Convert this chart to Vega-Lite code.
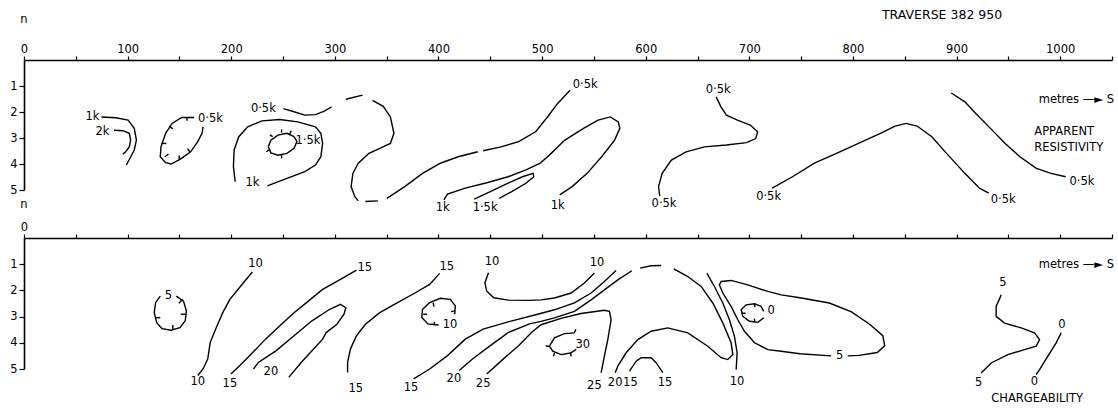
{
"$schema":"https://vega.github.io/schema/vega-lite/v6.json",
"background":"white",
"padding":{"left":9,"top":9,"right":0,"bottom":0},
"spacing":48,
"bounds":"flush",
"config":{
 "view":{"stroke":null},
 "font":"DejaVu Sans",
 "axis":{"domainColor":"black","tickColor":"black","labelColor":"black","labelFont":"DejaVu Sans","labelFontSize":11.5,"grid":false,"title":null,"domainWidth":1.6,"tickWidth":1.2,"labelFlush":false,"labelOverlap":false}
},
"datasets":{
"r":[
{"g":"a","x":74.7,"n":2.19},{"g":"a","x":88.5,"n":2.22},{"g":"a","x":100.5,"n":2.31},{"g":"a","x":106.4,"n":2.63},{"g":"a","x":108.5,"n":3.08},{"g":"a","x":106.4,"n":3.46},{"g":"a","x":102.3,"n":3.78},{"g":"a","x":98.8,"n":4.04},
{"g":"b","x":86.8,"n":2.70},{"g":"b","x":95.4,"n":2.72},{"g":"b","x":101.6,"n":2.82},{"g":"b","x":102.9,"n":3.08},{"g":"b","x":101.6,"n":3.34},{"g":"b","x":98.1,"n":3.53},{"g":"b","x":95.4,"n":3.62},
{"g":"c","x":164.2,"n":2.21},{"g":"c","x":152.2,"n":2.21},{"g":"c","x":142.9,"n":2.44},{"g":"c","x":136.7,"n":2.82},{"g":"c","x":132.2,"n":3.34},{"g":"c","x":131.5,"n":3.72},{"g":"c","x":136.7,"n":3.95},{"g":"c","x":141.9,"n":4.00},{"g":"c","x":150.5,"n":3.82},{"g":"c","x":160.8,"n":3.53},{"g":"c","x":167.7,"n":3.14},{"g":"c","x":171.8,"n":2.82},{"g":"c","x":172.8,"n":2.57},
{"g":"d","x":250.3,"n":1.87},{"g":"d","x":260.6,"n":1.99},{"g":"d","x":271.0,"n":2.12},{"g":"d","x":281.3,"n":2.10},{"g":"d","x":289.9,"n":1.97},{"g":"d","x":296.8,"n":1.80},
{"g":"e","x":310.6,"n":1.51},{"g":"e","x":326.7,"n":1.35},
{"g":"f","x":336.4,"n":1.55},{"g":"f","x":346.7,"n":1.78},{"g":"f","x":353.6,"n":2.19},{"g":"f","x":357.0,"n":2.82},{"g":"f","x":353.6,"n":3.21},{"g":"f","x":343.3,"n":3.40},{"g":"f","x":332.9,"n":3.59},{"g":"f","x":322.6,"n":3.97},{"g":"f","x":317.4,"n":4.36},{"g":"f","x":315.7,"n":4.87},{"g":"f","x":319.2,"n":5.25},{"g":"f","x":322.6,"n":5.42},
{"g":"g","x":329.5,"n":5.44},{"g":"g","x":341.5,"n":5.42},
{"g":"h","x":350.2,"n":5.32},{"g":"h","x":367.4,"n":4.87},{"g":"h","x":384.6,"n":4.36},{"g":"h","x":401.8,"n":3.97},{"g":"h","x":419.0,"n":3.72},{"g":"h","x":437.9,"n":3.53},
{"g":"i","x":443.1,"n":3.49},{"g":"i","x":460.3,"n":3.34},{"g":"i","x":477.5,"n":3.14},{"g":"i","x":494,"n":2.75},{"g":"i","x":505,"n":2.2},{"g":"i","x":515,"n":1.67},{"g":"i","x":527,"n":1.16},
{"g":"j","x":203.8,"n":4.68},{"g":"j","x":202.1,"n":4.10},{"g":"j","x":202.8,"n":3.46},{"g":"j","x":207.3,"n":2.95},{"g":"j","x":215.9,"n":2.57},{"g":"j","x":229.6,"n":2.34},{"g":"j","x":246.9,"n":2.29},{"g":"j","x":264.1,"n":2.38},{"g":"j","x":281.3,"n":2.57},{"g":"j","x":286.5,"n":2.82},{"g":"j","x":288.2,"n":3.21},{"g":"j","x":286.5,"n":3.72},{"g":"j","x":281.3,"n":4.04},{"g":"j","x":271.0,"n":4.29},{"g":"j","x":253.8,"n":4.55},{"g":"j","x":234.8,"n":4.84},
{"g":"k","x":260.6,"n":2.95},{"g":"k","x":253.8,"n":2.82},{"g":"k","x":245.1,"n":2.89},{"g":"k","x":238.3,"n":3.08},{"g":"k","x":235.8,"n":3.34},{"g":"k","x":238.3,"n":3.57},{"g":"k","x":245.1,"n":3.66},{"g":"k","x":253.8,"n":3.59},{"g":"k","x":260.6,"n":3.40},{"g":"k","x":263.4,"n":3.14},{"g":"k","x":260.6,"n":2.95},
{"g":"l","x":405.2,"n":5.38},{"g":"l","x":408.7,"n":5.16},{"g":"l","x":425.9,"n":4.93},{"g":"l","x":446.6,"n":4.72},{"g":"l","x":467.2,"n":4.49},{"g":"l","x":484.4,"n":4.23},{"g":"l","x":498.2,"n":3.97},{"g":"l","x":508,"n":3.62},{"g":"l","x":522,"n":3.08},{"g":"l","x":540,"n":2.63},{"g":"l","x":554,"n":2.31},{"g":"l","x":566,"n":2.19},{"g":"l","x":573.5,"n":2.38},{"g":"l","x":575,"n":2.63},{"g":"l","x":570,"n":3.08},{"g":"l","x":557.5,"n":3.72},{"g":"l","x":543.4,"n":4.36},{"g":"l","x":529,"n":4.87},{"g":"l","x":517,"n":5.19},
{"g":"m","x":434.5,"n":5.35},{"g":"m","x":450.0,"n":5.06},{"g":"m","x":467.2,"n":4.74},{"g":"m","x":481.0,"n":4.49},{"g":"m","x":491.3,"n":4.36},{"g":"m","x":492.0,"n":4.49},{"g":"m","x":484.4,"n":4.74},{"g":"m","x":470.7,"n":5.06},{"g":"m","x":458.6,"n":5.32},
{"g":"o","x":668.0,"n":1.42},{"g":"o","x":672.6,"n":1.80},{"g":"o","x":677.9,"n":2.12},{"g":"o","x":688.5,"n":2.31},{"g":"o","x":700.9,"n":2.50},{"g":"o","x":708.0,"n":2.76},{"g":"o","x":706.2,"n":3.02},{"g":"o","x":697.3,"n":3.18},{"g":"o","x":677.9,"n":3.27},{"g":"o","x":656.6,"n":3.34},{"g":"o","x":638.9,"n":3.53},{"g":"o","x":624.8,"n":3.85},{"g":"o","x":615.9,"n":4.36},{"g":"o","x":612.4,"n":4.87},{"g":"o","x":613.5,"n":5.23},
{"g":"p","x":722.1,"n":4.93},{"g":"p","x":741.6,"n":4.49},{"g":"p","x":762.8,"n":3.97},{"g":"p","x":784.1,"n":3.59},{"g":"p","x":805.3,"n":3.21},{"g":"p","x":826.5,"n":2.82},{"g":"p","x":840.7,"n":2.54},{"g":"p","x":851.3,"n":2.44},{"g":"p","x":861.9,"n":2.54},{"g":"p","x":876.1,"n":2.95},{"g":"p","x":890.3,"n":3.59},{"g":"p","x":908.0,"n":4.36},{"g":"p","x":922.1,"n":4.93},{"g":"p","x":931.0,"n":5.12},
{"g":"q","x":894.9,"n":1.27},{"g":"q","x":908.0,"n":1.61},{"g":"q","x":918.6,"n":2.06},{"g":"q","x":932.7,"n":2.63},{"g":"q","x":946.9,"n":3.21},{"g":"q","x":961.1,"n":3.72},{"g":"q","x":977.0,"n":4.17},{"g":"q","x":991.2,"n":4.36},{"g":"q","x":1005.3,"n":4.49},
{"g":"h1","x":157.3,"n":2.19},{"g":"h1","x":157.3,"n":2.34},
{"g":"h2","x":140.1,"n":2.54},{"g":"h2","x":143.6,"n":2.65},
{"g":"h3","x":132.6,"n":3.21},{"g":"h3","x":137.4,"n":3.21},
{"g":"h4","x":136.0,"n":3.72},{"g":"h4","x":139.4,"n":3.62},
{"g":"h5","x":149.8,"n":3.82},{"g":"h5","x":149.8,"n":3.67},
{"g":"h6","x":160.1,"n":3.53},{"g":"h6","x":157.7,"n":3.41},
{"g":"h7","x":248.6,"n":2.80},{"g":"h7","x":248.6,"n":2.67},
{"g":"h8","x":256.5,"n":2.85},{"g":"h8","x":257.9,"n":2.72},
{"g":"h9","x":236.5,"n":3.46},{"g":"h9","x":233.8,"n":3.53},
{"g":"h10","x":248.6,"n":3.65},{"g":"h10","x":248.6,"n":3.78},
{"g":"h11","x":240,"n":2.95},{"g":"h11","x":237.3,"n":2.88}
],
"rl":[
{"x":66,"n":2.19,"t":"1k"},{"x":75.7,"n":2.76,"t":"2k"},{"x":180,"n":2.27,"t":"0·5k"},{"x":231,"n":1.9,"t":"0·5k"},{"x":274,"n":3.11,"t":"1·5k"},{"x":220.4,"n":4.72,"t":"1k"},{"x":404,"n":5.7,"t":"1k"},{"x":445,"n":5.7,"t":"1·5k"},{"x":515,"n":5.6,"t":"1k"},{"x":541.6,"n":0.97,"t":"0·5k"},{"x":670,"n":1.14,"t":"0·5k"},{"x":617.7,"n":5.53,"t":"0·5k"},{"x":718.6,"n":5.28,"t":"0·5k"},{"x":945,"n":5.38,"t":"0·5k"},{"x":1021,"n":4.68,"t":"0·5k"}
],
"c":[
{"g":"A","x":131.5,"n":2.22},{"g":"A","x":127.0,"n":2.47},{"g":"A","x":125.7,"n":2.85},{"g":"A","x":128.1,"n":3.23},{"g":"A","x":133.2,"n":3.46},{"g":"A","x":141.9,"n":3.52},{"g":"A","x":150.5,"n":3.42},{"g":"A","x":155.6,"n":3.16},{"g":"A","x":156.7,"n":2.78},{"g":"A","x":153.9,"n":2.41},{"g":"A","x":147.0,"n":2.22},
{"g":"B","x":220.4,"n":1.30},{"g":"B","x":209.0,"n":1.84},{"g":"B","x":198.7,"n":2.34},{"g":"B","x":191.8,"n":2.85},{"g":"B","x":184.9,"n":3.48},{"g":"B","x":179.7,"n":3.99},{"g":"B","x":177.3,"n":4.62},{"g":"B","x":172.8,"n":5.00},{"g":"B","x":167.7,"n":5.25},
{"g":"C","x":320.9,"n":1.23},{"g":"C","x":305.4,"n":1.58},{"g":"C","x":288.2,"n":1.96},{"g":"C","x":274.4,"n":2.41},{"g":"C","x":260.6,"n":2.85},{"g":"C","x":246.9,"n":3.35},{"g":"C","x":233.1,"n":3.86},{"g":"C","x":219.3,"n":4.43},{"g":"C","x":208.3,"n":4.87},{"g":"C","x":199.7,"n":5.19},
{"g":"D","x":221.4,"n":5.00},{"g":"D","x":226.2,"n":4.75},{"g":"D","x":243.4,"n":4.30},{"g":"D","x":260.6,"n":3.73},{"g":"D","x":277.9,"n":3.16},{"g":"D","x":295.1,"n":2.72},{"g":"D","x":305.4,"n":2.53},{"g":"D","x":310.6,"n":2.66},{"g":"D","x":308.8,"n":2.91},{"g":"D","x":302.0,"n":3.29},{"g":"D","x":291.6,"n":3.61},{"g":"D","x":288.2,"n":3.86},{"g":"D","x":277.9,"n":4.30},{"g":"D","x":267.5,"n":4.75},{"g":"D","x":255.5,"n":5.32},
{"g":"E","x":401.1,"n":1.35},{"g":"E","x":391.5,"n":1.77},{"g":"E","x":377.7,"n":2.09},{"g":"E","x":360.5,"n":2.47},{"g":"E","x":343.3,"n":2.85},{"g":"E","x":329.5,"n":3.29},{"g":"E","x":320.9,"n":3.73},{"g":"E","x":315.0,"n":4.24},{"g":"E","x":312.3,"n":4.75},{"g":"E","x":312.3,"n":5.13},
{"g":"F","x":400.1,"n":3.32},{"g":"F","x":389.8,"n":3.28},{"g":"F","x":383.9,"n":3.03},{"g":"F","x":384.6,"n":2.72},{"g":"F","x":391.5,"n":2.47},{"g":"F","x":401.8,"n":2.30},{"g":"F","x":411.4,"n":2.34},{"g":"F","x":416.3,"n":2.59},{"g":"F","x":415.6,"n":2.91},
{"g":"G","x":448.3,"n":1.33},{"g":"G","x":444.8,"n":1.71},{"g":"G","x":446.6,"n":2.03},{"g":"G","x":453.4,"n":2.28},{"g":"G","x":467.2,"n":2.37},{"g":"G","x":487.9,"n":2.38},{"g":"G","x":499,"n":2.36},{"g":"G","x":511.9,"n":2.29},{"g":"G","x":528,"n":2.10},{"g":"G","x":540.8,"n":1.72},{"g":"G","x":550.5,"n":1.34},
{"g":"H","x":376.0,"n":5.38},{"g":"H","x":391.5,"n":5.00},{"g":"H","x":408.7,"n":4.49},{"g":"H","x":425.9,"n":3.86},{"g":"H","x":443.1,"n":3.48},{"g":"H","x":467.2,"n":3.2},{"g":"H","x":494.8,"n":2.92},{"g":"H","x":511.9,"n":2.74},{"g":"H","x":531.2,"n":2.48},{"g":"H","x":547.3,"n":2.10},{"g":"H","x":560.1,"n":1.66},{"g":"H","x":571.4,"n":1.24},
{"g":"I","x":420.0,"n":5.06},{"g":"I","x":432.8,"n":4.62},{"g":"I","x":450.0,"n":4.11},{"g":"I","x":467.2,"n":3.61},{"g":"I","x":487.9,"n":3.28},{"g":"I","x":499,"n":3.18},{"g":"I","x":511.9,"n":3.05},{"g":"I","x":531.2,"n":2.80},{"g":"I","x":547.3,"n":2.36},{"g":"I","x":560.1,"n":1.98},{"g":"I","x":573.1,"n":1.60},{"g":"I","x":586.6,"n":1.25},
{"g":"J","x":594.6,"n":1.15},{"g":"J","x":605.2,"n":1.06},{"g":"J","x":614.9,"n":1.05},
{"g":"K","x":627.1,"n":1.18},{"g":"K","x":640.6,"n":1.47},{"g":"K","x":653.5,"n":1.85},{"g":"K","x":664.7,"n":2.48},{"g":"K","x":674.4,"n":3.24},{"g":"K","x":682.4,"n":4.0},{"g":"K","x":684.1,"n":4.45},{"g":"K","x":679.2,"n":4.64},{"g":"K","x":672.8,"n":4.57},{"g":"K","x":659.9,"n":4.13},{"g":"K","x":640.6,"n":3.62},{"g":"K","x":621.3,"n":3.43},{"g":"K","x":605.2,"n":3.56},{"g":"K","x":592.4,"n":3.88},{"g":"K","x":581.1,"n":4.38},{"g":"K","x":573.1,"n":4.89},{"g":"K","x":570.5,"n":5.14},
{"g":"L","x":659,"n":1.34},{"g":"L","x":666.3,"n":1.85},{"g":"L","x":674.4,"n":2.48},{"g":"L","x":680.8,"n":3.12},{"g":"L","x":685.6,"n":3.75},{"g":"L","x":688.2,"n":4.38},{"g":"L","x":687.3,"n":5.02},
{"g":"M","x":584.3,"n":5.08},{"g":"M","x":590.8,"n":4.70},{"g":"M","x":595.6,"n":4.57},{"g":"M","x":605.2,"n":4.57},{"g":"M","x":610.0,"n":4.76},{"g":"M","x":616.5,"n":5.14},
{"g":"N","x":446.6,"n":5.19},{"g":"N","x":460.3,"n":4.7},{"g":"N","x":477.5,"n":4.1},{"g":"N","x":490,"n":3.6},{"g":"N","x":499,"n":3.31},{"g":"N","x":518.3,"n":3.07},{"g":"N","x":537.6,"n":2.88},{"g":"N","x":560.1,"n":2.76},{"g":"N","x":565,"n":2.80},{"g":"N","x":566.6,"n":3.12},{"g":"N","x":563.4,"n":3.88},{"g":"N","x":560.1,"n":4.51},{"g":"N","x":557,"n":5.14},
{"g":"O","x":531.2,"n":3.62},{"g":"O","x":521.6,"n":3.65},{"g":"O","x":511.9,"n":3.81},{"g":"O","x":507.1,"n":4.13},{"g":"O","x":510.3,"n":4.32},{"g":"O","x":518.3,"n":4.45},{"g":"O","x":527.4,"n":4.39},{"g":"O","x":533,"n":4.25},
{"g":"P","x":779.0,"n":4.50},{"g":"P","x":748.8,"n":4.42},{"g":"P","x":730.7,"n":4.32},{"g":"P","x":717.9,"n":4.26},{"g":"P","x":705,"n":4.0},{"g":"P","x":695.3,"n":3.56},{"g":"P","x":688.9,"n":3.12},{"g":"P","x":682.4,"n":2.61},{"g":"P","x":674.4,"n":2.10},{"g":"P","x":671.1,"n":1.79},{"g":"P","x":672.8,"n":1.66},{"g":"P","x":682.4,"n":1.62},{"g":"P","x":698.5,"n":1.79},{"g":"P","x":717.9,"n":2.04},{"g":"P","x":730.7,"n":2.17},{"g":"P","x":748.8,"n":2.28},{"g":"P","x":777.2,"n":2.48},{"g":"P","x":798.6,"n":2.82},{"g":"P","x":816.4,"n":3.3},{"g":"P","x":828.8,"n":3.73},{"g":"P","x":830.6,"n":4.11},{"g":"P","x":823.5,"n":4.37},{"g":"P","x":805.7,"n":4.48},{"g":"P","x":795.0,"n":4.5},
{"g":"Q","x":713.9,"n":2.80},{"g":"Q","x":711.3,"n":2.61},{"g":"Q","x":705,"n":2.51},{"g":"Q","x":696.9,"n":2.55},{"g":"Q","x":692.1,"n":2.74},{"g":"Q","x":693.7,"n":2.99},{"g":"Q","x":700.1,"n":3.18},{"g":"Q","x":708.2,"n":3.22},{"g":"Q","x":713.9,"n":3.05},
{"g":"R","x":943.1,"n":2.17},{"g":"R","x":938.2,"n":2.61},{"g":"R","x":938.2,"n":2.99},{"g":"R","x":946.3,"n":3.25},{"g":"R","x":962.4,"n":3.43},{"g":"R","x":975.2,"n":3.62},{"g":"R","x":980.1,"n":3.88},{"g":"R","x":976.8,"n":4.13},{"g":"R","x":965.5,"n":4.26},{"g":"R","x":949.5,"n":4.45},{"g":"R","x":933.4,"n":4.77},{"g":"R","x":923.7,"n":5.15},
{"g":"S","x":1001,"n":3.62},{"g":"S","x":996.1,"n":4.0},{"g":"S","x":988.1,"n":4.51},{"g":"S","x":980.1,"n":5.02},{"g":"S","x":976.8,"n":5.21},
{"g":"t1","x":126.4,"n":3.04},{"g":"t1","x":131.5,"n":3.04},
{"g":"t2","x":143.6,"n":3.52},{"g":"t2","x":143.6,"n":3.32},
{"g":"t3","x":156.7,"n":2.91},{"g":"t3","x":151.2,"n":2.91},
{"g":"t4","x":153.2,"n":2.34},{"g":"t4","x":149.4,"n":2.49},
{"g":"t5","x":394.9,"n":2.47},{"g":"t5","x":395.6,"n":2.62},
{"g":"t6","x":415.6,"n":2.78},{"g":"t6","x":412.1,"n":2.81},
{"g":"t7","x":385.3,"n":2.91},{"g":"t7","x":389.1,"n":2.91},
{"g":"t8","x":395.6,"n":3.33},{"g":"t8","x":396.3,"n":3.20},
{"g":"t9","x":531.2,"n":3.62},{"g":"t9","x":532.5,"n":3.48},
{"g":"t10","x":507.1,"n":4.13},{"g":"t10","x":503.5,"n":4.12},
{"g":"t11","x":512,"n":4.38},{"g":"t11","x":511,"n":4.52},
{"g":"t12","x":527.4,"n":4.39},{"g":"t12","x":528,"n":4.52},
{"g":"t13","x":705,"n":2.51},{"g":"t13","x":705.5,"n":2.64},
{"g":"t14","x":692.6,"n":2.87},{"g":"t14","x":696.5,"n":2.87},
{"g":"t15","x":705,"n":3.21},{"g":"t15","x":705,"n":3.08}
],
"cl":[
{"x":139.4,"n":2.22,"t":"5"},{"x":223.5,"n":0.99,"t":"10"},{"x":167.7,"n":5.5,"t":"10"},{"x":328.8,"n":1.14,"t":"15"},{"x":198.7,"n":5.57,"t":"15"},{"x":238.3,"n":5.13,"t":"20"},{"x":408,"n":1.11,"t":"15"},{"x":320.2,"n":5.76,"t":"15"},{"x":411.1,"n":3.32,"t":"10"},{"x":451.7,"n":0.92,"t":"10"},{"x":373.6,"n":5.73,"t":"15"},{"x":414.9,"n":5.38,"t":"20"},{"x":443.1,"n":5.59,"t":"25"},{"x":553.1,"n":0.94,"t":"10"},{"x":539.3,"n":4.07,"t":"30"},{"x":550.5,"n":5.65,"t":"25"},{"x":570.5,"n":5.53,"t":"20"},{"x":585.2,"n":5.53,"t":"15"},{"x":618.7,"n":5.53,"t":"15"},{"x":688.2,"n":5.5,"t":"10"},{"x":721,"n":2.8,"t":"0"},{"x":787.2,"n":4.5,"t":"5"},{"x":944.7,"n":1.7,"t":"5"},{"x":921.2,"n":5.55,"t":"5"},{"x":1001.6,"n":3.31,"t":"0"},{"x":975.2,"n":5.5,"t":"0"}
]
},
"vconcat":[
{
 "width":1088,"height":130,
 "encoding":{
  "x":{"field":"x","type":"quantitative","scale":{"domain":[0,1050],"nice":false,"zero":false},
       "axis":{"orient":"top","values":[0,50,100,150,200,250,300,350,400,450,500,550,600,650,700,750,800,850,900,950,1000,1050],"format":"d","labelExpr":"datum.value % 100 == 0 && datum.value < 1050 ? datum.label : ''","tickSize":4,"labelPadding":2}},
  "y":{"field":"n","type":"quantitative","scale":{"domain":[0,5],"reverse":true,"nice":false,"zero":false},
       "axis":{"values":[1,2,3,4,5],"tickSize":5,"labelPadding":2}}
 },
 "layer":[
  {"data":{"name":"r"},"mark":{"type":"line","color":"black","strokeWidth":1.4},"encoding":{"detail":{"field":"g"},"order":{"value":null}}},
  {"data":{"name":"rl"},"mark":{"type":"text","fontSize":11.5,"color":"black"},"encoding":{"text":{"field":"t"}}},
  {"data":{"values":[{"x":0,"n":-1.54,"t":"n"}]},"mark":{"type":"text","fontSize":11.5,"color":"black"},"encoding":{"text":{"field":"t"}}},
  {"data":{"values":[{"x":886,"n":-1.73,"t":"TRAVERSE 382 950"}]},"mark":{"type":"text","fontSize":12.5,"color":"black"},"encoding":{"text":{"field":"t"}}},
  {"data":{"values":[{"x":1052,"n":1.52,"t":"metres —► S"}]},"mark":{"type":"text","fontSize":11.5,"align":"right","color":"black"},"encoding":{"text":{"field":"t"}}},
  {"data":{"values":[{"x":975,"n":2.76,"t":"APPARENT"},{"x":975,"n":3.4,"t":"RESISTIVITY"}]},"mark":{"type":"text","fontSize":11.5,"align":"left","color":"black"},"encoding":{"text":{"field":"t"}}}
 ]
},
{
 "width":1088,"height":131,
 "encoding":{
  "x":{"field":"x","type":"quantitative","scale":{"domain":[0,1050],"nice":false,"zero":false},
       "axis":{"orient":"top","values":[0,50,100,150,200,250,300,350,400,450,500,550,600,650,700,750,800,850,900,950,1000,1050],"format":"d","labelExpr":"datum.value == 0 ? '0' : ''","tickSize":4,"labelPadding":2}},
  "y":{"field":"n","type":"quantitative","scale":{"domain":[0,5],"reverse":true,"nice":false,"zero":false},
       "axis":{"values":[1,2,3,4,5],"tickSize":5,"labelPadding":2}}
 },
 "layer":[
  {"data":{"name":"c"},"mark":{"type":"line","color":"black","strokeWidth":1.4},"encoding":{"detail":{"field":"g"},"order":{"value":null}}},
  {"data":{"name":"cl"},"mark":{"type":"text","fontSize":11.5,"color":"black"},"encoding":{"text":{"field":"t"}}},
  {"data":{"values":[{"x":0,"n":-1.25,"t":"n"},{"x":977.7,"n":6.16,"t":"CHARGEABILITY"}]},"mark":{"type":"text","fontSize":11.5,"color":"black"},"encoding":{"text":{"field":"t"}}},
  {"data":{"values":[{"x":1052,"n":1.03,"t":"metres —► S"}]},"mark":{"type":"text","fontSize":11.5,"align":"right","color":"black"},"encoding":{"text":{"field":"t"}}}
 ]
}
]
}
